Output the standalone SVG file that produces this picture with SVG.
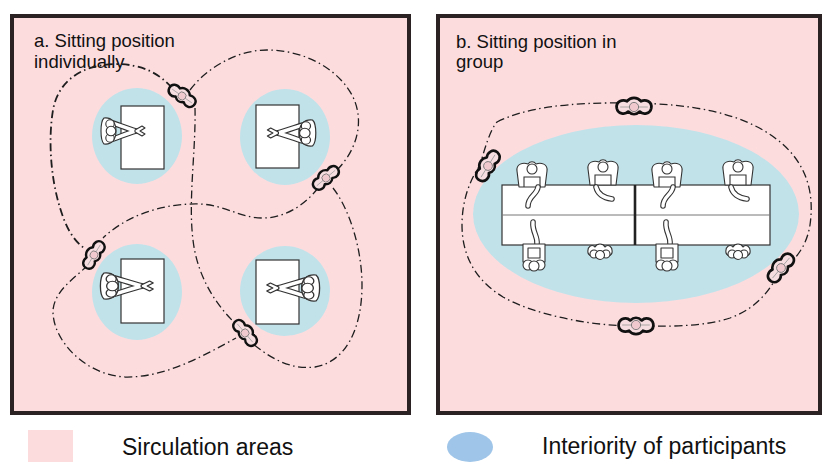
<svg xmlns="http://www.w3.org/2000/svg" xmlns:xlink="http://www.w3.org/1999/xlink" width="824" height="462" viewBox="0 0 824 462">
  <style>
    .panel { fill: #fddcde; stroke: #2b2323; stroke-width: 4; }
    .zone { fill: #c2e2ea; }
    .desk { fill: #ffffff; stroke: #333; stroke-width: 1.2; }
    .path { fill: none; stroke: #1e1e1e; stroke-width: 1.3; stroke-dasharray: 8 3.5 1.5 3.5; }
    .path.bold { stroke-width: 1.8; }
    .armo { fill: none; stroke: #333; stroke-width: 5.6; stroke-linecap: round; stroke-linejoin: round; }
    .armi { fill: none; stroke: #fff; stroke-width: 3.4; stroke-linecap: round; stroke-linejoin: round; }
    .body { fill: #fff; stroke: #333; stroke-width: 1.1; stroke-linejoin: round; }
    .line { fill: none; stroke: #333; stroke-width: 1.1; }
    .title { font-family: "Liberation Sans", Arial, sans-serif; font-size: 18.5px; fill: #111; }
    .legend { font-family: "Liberation Sans", Arial, sans-serif; font-size: 23px; fill: #111; }
  </style>
  <defs>
    <!-- seated person seen from above, facing +x, origin at the shoulders -->
    <g id="sitter">
      <path class="armo" d="M1,-9 C10,-6 19,-2 27,0 M1,9 C10,6 19,2 27,0"/>
      <path class="armi" d="M1,-9 C10,-6 19,-2 27,0 M1,9 C10,6 19,2 27,0"/>
      <path class="body" d="M26,-1 L33,-5 L36,-3 L31,0 L36,3 L33,5 L26,1 Z"/>
      <path class="body" d="M-5,-13 C3,-14 7,-8 7,0 C7,8 3,14 -5,13 C-9,9 -9,-9 -5,-13 Z"/>
      <circle class="body" cx="1" cy="-7" r="4.2"/>
      <circle class="body" cx="1" cy="7" r="4.2"/>
      <circle class="body" cx="2" cy="0" r="4.8"/>
    </g>
    <!-- walking person seen from above, centred on the head -->
    <g id="walker">
      <path d="M-15,1 C-16,-5 -10,-7 -6,-5 C-3,-9 3,-9 6,-5 C10,-7 16,-5 15,1 C14,6 8,7 5,4 C2,7 -2,7 -5,4 C-8,7 -14,6 -15,1 Z" fill="#f6dde0" stroke="#111" stroke-width="2.4" stroke-linejoin="round"/>
      <path d="M-12,0 H12" stroke="#999" stroke-width="0.7"/>
      <circle cx="0" cy="0" r="4" fill="#f0c9cf" stroke="#777" stroke-width="0.8"/>
    </g>
    <!-- person at the far side of the long table, facing down -->
    <g id="upper">
      <path class="body" d="M-15,-1 C-16,-8 -9,-10 -4,-8 C-2,-11 2,-11 4,-8 C9,-10 16,-8 15,-1 L13,15 L-13,15 Z"/>
      <path class="line" d="M-8,15 V5 H8 V15"/>
      <circle class="body" cx="0" cy="-3" r="5"/>
    </g>
    <!-- person on a chair at the near side, facing up -->
    <g id="chaired">
      <rect class="body" x="-11" y="-9" width="22" height="18"/>
      <rect class="body" x="-6" y="-5" width="12" height="10"/>
      <circle class="body" cx="-6" cy="12" r="5"/>
      <circle class="body" cx="6" cy="12" r="5"/>
      <circle class="body" cx="0" cy="13" r="5"/>
    </g>
    <!-- person at the near side, only head and shoulders visible -->
    <g id="head">
      <path class="body" d="M-12,2 C-13,-5 -8,-7 -5,-4 C-3,-8 3,-8 5,-4 C8,-7 13,-5 12,2 C10,8 -10,8 -12,2 Z"/>
      <circle class="body" cx="-6" cy="3" r="4"/>
      <circle class="body" cx="6" cy="3" r="4"/>
      <circle class="body" cx="0" cy="4" r="4.5"/>
    </g>
  </defs>

  <!-- panel a: individual seating -->
  <g id="panel-a">
    <rect class="panel" x="12" y="16" width="397" height="397"/>
    <text class="title" x="34" y="47">a. Sitting position</text>
    <text class="title" x="34" y="68">individually</text>
  </g>
  <g id="station-a1">
    <ellipse class="zone" cx="137" cy="136" rx="45" ry="48"/>
    <rect class="desk" x="121" y="106" width="43" height="63"/>
    <use xlink:href="#sitter" transform="translate(109,131)"/>
  </g>
  <g id="station-a2">
    <ellipse class="zone" cx="285" cy="137" rx="45" ry="48"/>
    <rect class="desk" x="256" y="105" width="43" height="63"/>
    <use xlink:href="#sitter" transform="translate(307,133) scale(-1.1,1)"/>
  </g>
  <g id="station-a3">
    <ellipse class="zone" cx="137" cy="292" rx="45" ry="48"/>
    <rect class="desk" x="121" y="259" width="43" height="64"/>
    <use xlink:href="#sitter" transform="translate(110,286) scale(1.2,1)"/>
  </g>
  <g id="station-a4">
    <ellipse class="zone" cx="285" cy="291" rx="45" ry="45"/>
    <rect class="desk" x="256" y="260" width="43" height="64"/>
    <use xlink:href="#sitter" transform="translate(310,288) scale(-1.2,1)"/>
  </g>

  <!-- panel b: group seating -->
  <g id="panel-b">
    <rect class="panel" x="438" y="16" width="382" height="397"/>
    <text class="title" x="456" y="48">b. Sitting position in</text>
    <text class="title" x="456" y="68">group</text>
  </g>
  <g id="group-table">
    <ellipse class="zone" cx="636" cy="214" rx="163" ry="89"/>
    <rect class="desk" x="502" y="185" width="268" height="60"/>
    <line x1="502" y1="215" x2="770" y2="215" stroke="#777" stroke-width="1"/>
    <line x1="635" y1="185" x2="635" y2="245" stroke="#222" stroke-width="2.6"/>
    <!-- far side -->
    <g id="seat-b1">
      <use xlink:href="#upper" transform="translate(532,172)"/>
      <path class="armo" d="M538,187 C537,195 528,196 528,206"/>
      <path class="armi" d="M538,187 C537,195 528,196 528,206"/>
    </g>
    <g id="seat-b2">
      <use xlink:href="#upper" transform="translate(603,170)"/>
      <path class="armo" d="M596,187 C598,195 605,198 612,199"/>
      <path class="armi" d="M596,187 C598,195 605,198 612,199"/>
    </g>
    <g id="seat-b3">
      <use xlink:href="#upper" transform="translate(667,172)"/>
      <path class="armo" d="M673,187 C672,195 663,196 663,206"/>
      <path class="armi" d="M673,187 C672,195 663,196 663,206"/>
    </g>
    <g id="seat-b4">
      <use xlink:href="#upper" transform="translate(738,170)"/>
      <path class="armo" d="M731,187 C733,195 740,198 747,199"/>
      <path class="armi" d="M731,187 C733,195 740,198 747,199"/>
    </g>
    <!-- near side -->
    <g id="seat-b5">
      <path class="armo" d="M537,244 C538,236 532,232 533,222"/>
      <path class="armi" d="M537,244 C538,236 532,232 533,222"/>
      <use xlink:href="#chaired" transform="translate(534,253)"/>
    </g>
    <g id="seat-b6">
      <use xlink:href="#head" transform="translate(600,251)"/>
    </g>
    <g id="seat-b7">
      <path class="armo" d="M670,244 C671,236 665,232 666,222"/>
      <path class="armi" d="M670,244 C671,236 665,232 666,222"/>
      <use xlink:href="#chaired" transform="translate(667,253)"/>
    </g>
    <g id="seat-b8">
      <use xlink:href="#head" transform="translate(738,251)"/>
    </g>
  </g>

  <!-- circulation routes -->
  <g id="routes">
    <path class="path bold" d="M172,88 C158,72 140,64 115,64 C80,65 58,82 53,110 C48,140 50,185 65,222 C70,234 76,242 84,248"/>
    <path class="path" d="M190,90 C205,70 235,50 267,50 C300,50 335,65 352,95 C365,120 358,150 335,172"/>
    <path class="path" d="M195,108 C196,150 188,200 193,240 C197,275 215,305 238,326"/>
    <path class="path" d="M318,188 C305,205 285,218 263,218 C240,218 225,205 200,204 C170,203 130,212 103,238"/>
    <path class="path" d="M333,188 C350,210 362,250 362,285 C362,330 345,362 315,367 C290,370 270,358 252,343"/>
    <path class="path" d="M88,265 C75,278 55,290 53,310 C52,340 85,375 125,377 C165,378 205,355 236,338"/>
    <path class="path" d="M497,122 C525,108 565,102 633,103 C690,104 740,112 775,138 C805,160 815,190 810,225 C806,250 792,262 782,270 C772,282 765,305 730,318 C700,328 660,326 636,326 C590,326 535,315 503,297 C475,280 462,255 462,225 C462,200 470,180 480,165 C485,148 490,130 497,122 Z"/>
  </g>

  <!-- people walking along the routes -->
  <g id="walkers">
    <use xlink:href="#walker" transform="translate(182,96) rotate(35)"/>
    <use xlink:href="#walker" transform="translate(326,178) rotate(-40)"/>
    <use xlink:href="#walker" transform="translate(94,255) rotate(-58)"/>
    <use xlink:href="#walker" transform="translate(245,333) rotate(50)"/>
    <use xlink:href="#walker" transform="translate(634,107) scale(1.15)"/>
    <use xlink:href="#walker" transform="translate(636,325) scale(1.15,-1.15)"/>
    <use xlink:href="#walker" transform="translate(488,166) rotate(-58) scale(1.1)"/>
    <use xlink:href="#walker" transform="translate(781,268) rotate(-50) scale(1.1)"/>
  </g>

  <!-- legend -->
  <g id="legend">
    <rect x="28" y="430" width="45" height="32" fill="#fddcde"/>
    <text class="legend" x="122" y="455">Sirculation areas</text>
    <ellipse cx="470" cy="447" rx="23" ry="15" fill="#9fc5e8"/>
    <text class="legend" x="542" y="454">Interiority of participants</text>
  </g>
</svg>
